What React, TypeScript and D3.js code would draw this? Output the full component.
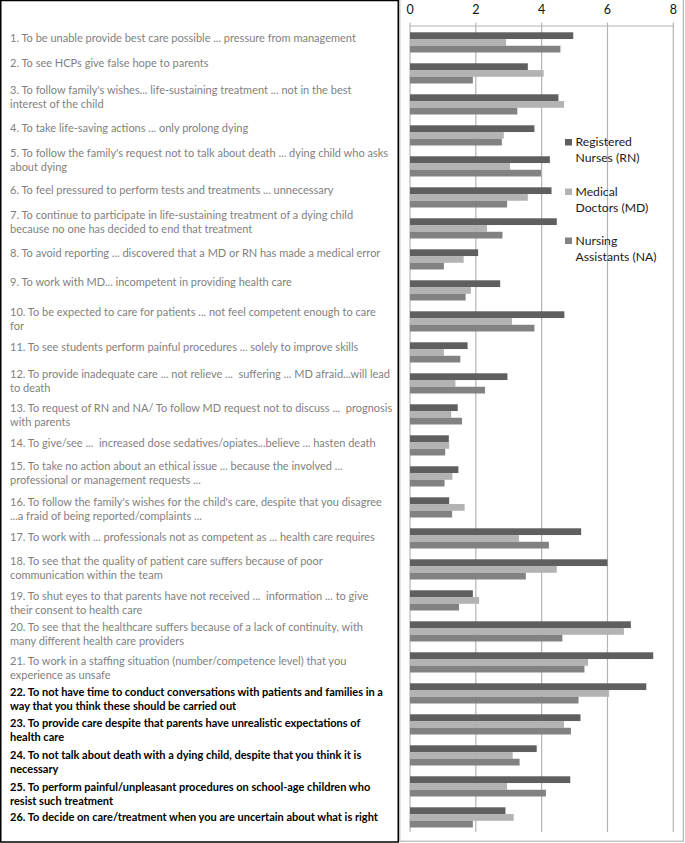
import React from "react";
import * as d3 from "d3";

// ---------- data ----------
const series = ["Registered Nurses (RN)", "Medical Doctors (MD)", "Nursing Assistants (NA)"];
const legendLines = [["Registered", "Nurses (RN)"], ["Medical", "Doctors (MD)"], ["Nursing", "Assistants (NA)"]];

const itemLabels: string[][] = [
  ["1. To be unable provide best care possible ... pressure from management"],
  ["2. To see HCPs give false hope to parents"],
  ["3. To follow family's wishes... life-sustaining treatment ... not in the best", "interest of the child"],
  ["4. To take life-saving actions ... only prolong dying"],
  ["5. To follow the family's request not to talk about death ... dying child who asks", "about dying"],
  ["6. To feel pressured to perform tests and treatments ... unnecessary"],
  ["7. To continue to participate in life-sustaining treatment of a dying child", "because no one has decided to end that treatment"],
  ["8. To avoid reporting ... discovered that a MD or RN has made a medical error"],
  ["9. To work with MD... incompetent in providing health care"],
  ["10. To be expected to care for patients ... not feel competent enough to care", "for"],
  ["11. To see students perform painful procedures ... solely to improve skills"],
  ["12. To provide inadequate care ... not relieve ...  suffering ... MD afraid...will lead", "to death"],
  ["13. To request of RN and NA/ To follow MD request not to discuss ...  prognosis", "with parents"],
  ["14. To give/see ...  increased dose sedatives/opiates...believe ... hasten death"],
  ["15. To take no action about an ethical issue ... because the involved ...", "professional or management requests ..."],
  ["16. To follow the family's wishes for the child's care, despite that you disagree", "...a fraid of being reported/complaints ..."],
  ["17. To work with ... professionals not as competent as ... health care requires"],
  ["18. To see that the quality of patient care suffers because of poor", "communication within the team"],
  ["19. To shut eyes to that parents have not received ...  information ... to give", "their consent to health care"],
  ["20. To see that the healthcare suffers because of a lack of continuity, with", "many different health care providers"],
  ["21. To work in a staffing situation (number/competence level) that you", "experience as unsafe"],
  ["22. To not have time to conduct conversations with patients and families in a", "way that you think these should be carried out"],
  ["23. To provide care despite that parents have unrealistic expectations of", "health care"],
  ["24. To not talk about death with a dying child, despite that you think it is", "necessary"],
  ["25. To perform painful/unpleasant procedures on school-age children who", "resist such treatment"],
  ["26. To decide on care/treatment when you are uncertain about what is right"],
];
const boldFrom = 21; // items 22-26 are bold

const rnValues = [4.96, 3.58, 4.51, 3.78, 4.25, 4.30, 4.46, 2.07, 2.74, 4.69, 1.75, 2.96, 1.45, 1.18, 1.47, 1.19, 5.20, 6.00, 1.91, 6.71, 7.39, 7.18, 5.18, 3.85, 4.87, 2.90];
const mdValues = [2.92, 4.06, 4.68, 2.85, 3.04, 3.58, 2.34, 1.63, 1.85, 3.10, 1.03, 1.38, 1.25, 1.19, 1.29, 1.66, 3.31, 4.46, 2.10, 6.50, 5.41, 6.05, 4.68, 3.12, 2.95, 3.15];
const naValues = [4.57, 1.91, 3.26, 2.79, 3.98, 2.95, 2.81, 1.03, 1.69, 3.78, 1.53, 2.28, 1.58, 1.07, 1.05, 1.28, 4.22, 3.52, 1.49, 4.63, 5.30, 5.12, 4.89, 3.33, 4.13, 1.91];
const xTicks = [0, 2, 4, 6, 8];

// ---------- layout / style ----------
const W = 685;
const H = 843;
const colors = ["#5f5f5f", "#b3b3b3", "#828282"];
// vertical nudge of each label's first baseline relative to its bar-group centre (text box is laid out independently)
const labelNudge = [0.5, -5.5, -9.5, -2.5, -8.5, -2.5, -8.5, -1.5, -3.5, -4.5, -0.5, -4.5, -1.5, 2.5, -5.5, -0.5, 3.5, -3.5, 0.5, 0.5, 3.5, 3.5, 3.5, 4.5, 5.5, 4.5];

export default function App() {
  const valuesBySeries = [rnValues, mdValues, naValues];
  const idx = itemLabels.map((_, i) => i);

  const x = d3.scaleLinear().domain([0, 8]).range([410, 673.3]);
  const y = d3.scaleBand<number>().domain(idx).range([26, 832]).padding(0);
  const ySub = d3.scaleBand<number>().domain([0, 1, 2]).range([6.3, 26.5]).padding(0);

  const axisTop = 26;
  const gridBottom = 832;
  const labelFont = "Lato, 'Open Sans', sans-serif";

  return (
    <svg
      width={W}
      height={H}
      style={{ position: "absolute", left: 0, top: 0, background: "#fff" }}
      fontFamily={labelFont}
    >
      <title>{series.join(", ")}</title>
      {/* left text panel frame */}
      <rect x={0.75} y={0.5} width={397.5} height={841.5} fill="#fff" stroke="#000" strokeWidth={1.5} />
      {/* right chart frame */}
      <rect x={399.8} y={-1} width={283.5} height={842.2} fill="#fff" stroke="#a6a6a6" strokeWidth={1} />

      {/* grid lines */}
      {xTicks.map((t) => (
        <line key={"g" + t} x1={x(t)} x2={x(t)} y1={axisTop - 3.5} y2={gridBottom} stroke="#b4b4b4" strokeWidth={1.2} />
      ))}
      <line x1={x(0)} x2={x(8)} y1={axisTop} y2={axisTop} stroke="#b4b4b4" strokeWidth={1.2} />
      {xTicks.map((t) => (
        <text key={"t" + t} x={x(t)} y={14} textAnchor="middle" fontSize={12.5} fill="#111" fontFamily="Lato, sans-serif">
          {t}
        </text>
      ))}

      {/* bars */}
      {idx.map((i) => (
        <g key={"b" + i} transform={`translate(0,${y(i)})`}>
          {valuesBySeries.map((vals, s) => (
            <rect
              key={s}
              x={x(0)}
              y={ySub(s)}
              width={x(vals[i]) - x(0)}
              height={ySub.bandwidth()}
              fill={colors[s]}
            />
          ))}
        </g>
      ))}

      {/* legend */}
      {legendLines.map((lines, s) => {
        const top = [139, 188.5, 237.5][s];
        return (
          <g key={"l" + s}>
            <rect x={565} y={top} width={7} height={6.5} fill={colors[s]} />
            {lines.map((ln, k) => (
              <text key={k} x={575.5} y={top + 7 + k * 16} fontSize={12.2} fill="#1a1a1a">
                {ln}
              </text>
            ))}
          </g>
        );
      })}

      {/* item labels */}
      {itemLabels.map((lines, i) => {
        const base = (y(i) as number) + y.bandwidth() / 2 + labelNudge[i];
        const bold = i >= boldFrom;
        return (
          <text
            key={"lab" + i}
            x={10}
            y={base}
            fontSize={11}
            fill={bold ? "#000" : "#7f7f7f"}
            fontWeight={bold ? 700 : 400}
            style={{ whiteSpace: "pre" }}
          >
            {lines.map((ln, k) => (
              <tspan key={k} x={10} y={base + k * 14}>
                {ln}
              </tspan>
            ))}
          </text>
        );
      })}
    </svg>
  );
}
